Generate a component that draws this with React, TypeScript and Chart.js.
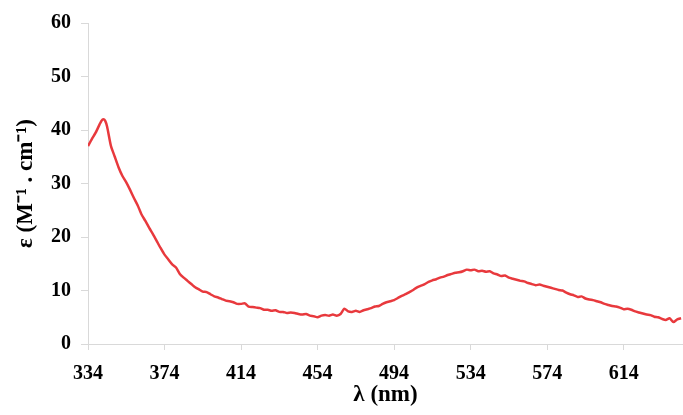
import React, { useEffect, useRef } from "react";
import { Chart, registerables } from "chart.js";

Chart.register(...registerables);

const wavelengths: number[] = [
  334, 336, 338, 340, 341, 342, 343, 344, 346, 348, 350, 352, 354, 356, 358, 360, 362, 364, 366, 368, 370, 372,
  374, 376, 378, 380, 382, 384, 386, 388, 390, 392, 394, 396, 398, 400, 402, 404, 406, 408, 410, 412,
  414, 416, 418, 420, 422, 424, 426, 428, 430, 432, 434, 436, 438, 440, 442, 444, 446, 448, 450, 452,
  454, 456, 458, 460, 462, 464, 466, 468, 470, 472, 474, 476, 478, 480, 482, 484, 486, 488, 490, 492,
  494, 496, 498, 500, 502, 504, 506, 508, 510, 512, 514, 516, 518, 520, 522, 524, 526, 528, 530, 532,
  534, 536, 538, 540, 542, 544, 546, 548, 550, 552, 554, 556, 558, 560, 562, 564, 566, 568, 570, 572,
  574, 576, 578, 580, 582, 584, 586, 588, 590, 592, 594, 596, 598, 600, 602, 604, 606, 608, 610, 612,
  614, 616, 618, 620, 622, 624, 626, 628, 630, 632, 634, 636, 638, 640, 642, 644,
];

const epsilon: number[] = [
  37.0, 38.3, 39.5, 41.0, 41.7, 42.0, 41.7, 40.6, 37.0, 35.0, 33.0, 31.4, 30.2, 28.8, 27.3, 25.9, 24.2, 23.0, 21.7, 20.5, 19.2, 17.9,
  16.7, 15.8, 14.9, 14.3, 13.1, 12.4, 11.8, 11.2, 10.6, 10.2, 9.8, 9.7, 9.3, 8.9, 8.7, 8.4, 8.1, 8.0, 7.8, 7.5,
  7.5, 7.6, 7.0, 6.9, 6.8, 6.7, 6.4, 6.4, 6.2, 6.3, 6.0, 6.0, 5.8, 5.9, 5.8, 5.6, 5.5, 5.6, 5.3, 5.2,
  5.0, 5.3, 5.4, 5.3, 5.5, 5.3, 5.6, 6.6, 6.1, 6.0, 6.2, 6.0, 6.3, 6.5, 6.7, 7.0, 7.1, 7.5, 7.8, 8.0,
  8.2, 8.6, 9.0, 9.3, 9.7, 10.1, 10.6, 10.9, 11.2, 11.6, 11.9, 12.1, 12.4, 12.6, 12.9, 13.1, 13.3, 13.4, 13.6, 13.9,
  13.8, 13.9, 13.6, 13.7, 13.5, 13.6, 13.2, 13.0, 12.7, 12.8, 12.4, 12.2, 12.0, 11.8, 11.7, 11.4, 11.2, 11.0, 11.1, 10.9,
  10.7, 10.5, 10.3, 10.1, 10.0, 9.6, 9.3, 9.1, 8.8, 8.9, 8.5, 8.3, 8.2, 8.0, 7.8, 7.5, 7.3, 7.1, 7.0, 6.8,
  6.5, 6.6, 6.4, 6.1, 5.9, 5.7, 5.5, 5.4, 5.1, 5.0, 4.7, 4.5, 4.8, 4.1, 4.6, 4.8,
];

const xTicks: number[] = [334, 374, 414, 454, 494, 534, 574, 614];
const yTicks: number[] = [0, 10, 20, 30, 40, 50, 60];

const X_MIN = 334;
const X_MAX = 645;
const FONT = "'Liberation Serif', 'Times New Roman', serif";

export default function App() {
  const canvasRef = useRef<HTMLCanvasElement | null>(null);

  useEffect(() => {
    const canvas = canvasRef.current;
    if (!canvas) return;
    const points = wavelengths.map((w, i) => ({ x: w, y: epsilon[i] }));
    const chart = new Chart(canvas, {
      type: "line",
      data: {
        datasets: [
          {
            data: points,
            borderColor: "#e8393d",
            borderWidth: 2.5,
            pointRadius: 0,
            tension: 0.2,
            fill: false,
          },
        ],
      },
      options: {
        animation: false,
        responsive: false,
        maintainAspectRatio: false,
        layout: { padding: { top: 23, right: 0, left: 0, bottom: 0 } },
        plugins: { legend: { display: false }, tooltip: { enabled: false } },
        scales: {
          x: {
            type: "linear",
            min: X_MIN,
            max: X_MAX,
            afterBuildTicks: (scale: any) => {
              scale.ticks = xTicks.map((v) => ({ value: v }));
            },
            afterFit: (scale: any) => {
              scale.height = 71;
            },
            grid: { drawOnChartArea: false, drawTicks: true, tickLength: 6, color: "#d9d9d9" },
            border: { display: true, color: "#d9d9d9", width: 1 },
            ticks: {
              color: "#000",
              padding: 12,
              maxRotation: 0,
              autoSkip: false,
              font: { family: FONT, size: 20, weight: "bold" },
              callback: (v: any) => String(v),
            },
            title: {
              display: true,
              text: "λ (nm)",
              color: "#000",
              font: { family: FONT, size: 23, weight: "bold" },
              padding: { top: 0, bottom: 6 },
            },
          },
          y: {
            min: 0,
            max: 60,
            afterBuildTicks: (scale: any) => {
              scale.ticks = yTicks.map((v) => ({ value: v }));
            },
            afterFit: (scale: any) => {
              scale.width = 88;
            },
            grid: { drawOnChartArea: false, drawTicks: true, tickLength: 7, color: "#d9d9d9" },
            border: { display: true, color: "#d9d9d9", width: 1 },
            ticks: {
              color: "#000",
              padding: 10,
              font: { family: FONT, size: 20, weight: "bold" },
            },
            title: {
              display: true,
              text: "ε (M⁻¹ . cm⁻¹)",
              color: "#000",
              font: { family: FONT, size: 23, weight: "bold" },
              padding: { top: 12, bottom: 0 },
            },
          },
        },
      },
    });
    return () => chart.destroy();
  }, []);

  return (
    <div style={{ position: "fixed", left: 0, top: 0, width: 683, height: 415, background: "#fff" }}>
      <canvas ref={canvasRef} width={683} height={415} style={{ display: "block" }} />
    </div>
  );
}
